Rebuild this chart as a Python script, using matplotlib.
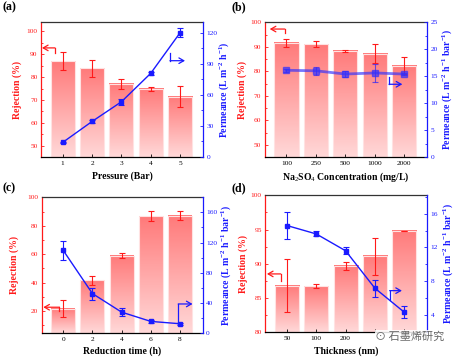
"""
膜性能（截留率 + 渗透率）四联图
"""
import numpy as np
import matplotlib
matplotlib.use('Agg')
import matplotlib.pyplot as plt
from matplotlib.colors import LinearSegmentedColormap
from matplotlib.ticker import MultipleLocator

plt.rcParams['font.family'] = ['Liberation Serif', 'DejaVu Sans']
plt.rcParams['mathtext.fontset'] = 'custom'
plt.rcParams['mathtext.rm'] = 'Liberation Serif'
plt.rcParams['mathtext.it'] = 'Liberation Serif:italic'
plt.rcParams['mathtext.bf'] = 'Liberation Serif:bold'

# (a) 压力
pressure_labels = ['1', '2', '3', '4', '5']
pressure_rej = [87.0, 83.8, 77.0, 74.8, 71.4]
pressure_rej_err = [3.9, 3.6, 2.2, 1.0, 4.5]
pressure_perm = [14.1, 34.3, 53.3, 80.8, 120.0]
pressure_perm_err = [0.8, 1.0, 3.0, 1.2, 4.3]

# (b) Na2SO4 浓度
conc_labels = ['100', '250', '500', '1000', '2000']
conc_rej = [91.7, 91.0, 88.3, 87.1, 82.3]
conc_rej_err = [1.6, 1.2, 0.3, 3.9, 3.6]
conc_perm = [16.1, 16.0, 15.4, 15.6, 15.4]
conc_perm_err = [0.3, 0.7, 0.5, 1.6, 0.2]

# (c) 还原时间
time_labels = ['0', '2', '4', '6', '8']
time_rej = [21.6, 41.5, 58.9, 86.8, 87.2]
time_rej_err = [5.9, 3.0, 1.6, 3.7, 3.4]
time_perm = [109.5, 52.3, 27.7, 15.4, 12.3]
time_perm_err = [12.7, 8.0, 5.3, 2.0, 1.5]

# (d) 厚度 （后两个标签被水印遮住）
thick_labels = ['50', '100', '200', '', '']
thick_rej = [86.8, 86.7, 89.7, 91.1, 94.8]
thick_rej_err = [3.9, 0.3, 0.6, 2.7, 0.0]
thick_perm = [14.6, 13.6, 11.6, 7.15, 4.3]
thick_perm_err = [1.6, 0.3, 0.4, 1.0, 0.7]

RED = '#ff1a1a'
BLUE = '#1a1aff'
bar_cmap = LinearSegmentedColormap.from_list('bar', ['#ffd8d8', '#ff7a7a'])

PERM_LABEL = r'Permeance (L m$^{\mathbf{-2}}$ h$^{\mathbf{-1}}$ bar$^{\mathbf{-1}}$)'


def draw_arrow(ax, tail, corner, tip, color):
    """L字形の矢印（軸の割合座標）"""
    ax.plot([tail[0], corner[0]], [tail[1], corner[1]], color=color, lw=0.9,
            transform=ax.transAxes, clip_on=False, zorder=6)
    ax.annotate('', xy=tip, xytext=corner, xycoords='axes fraction',
                arrowprops=dict(arrowstyle='->,head_length=0.35,head_width=0.2',
                                color=color, lw=0.9, shrinkA=0, shrinkB=0),
                zorder=6)


def draw_panel(fig, rect, labels, rej, rej_err, perm, perm_err, xlabel,
               ylim_l, yt_l, ylim_r, yt_r, perm_label, arrows, line_kw,
               lab_coords):
    ax = fig.add_axes(rect)
    x = np.arange(len(labels))
    w = 0.82

    # 棒グラフ（グラデーション）
    for xi, h in zip(x, rej):
        grad = np.linspace(0, 1, 100).reshape(-1, 1)
        ax.imshow(grad, extent=(xi - w / 2, xi + w / 2, ylim_l[0], h),
                  origin='lower', cmap=bar_cmap, aspect='auto', zorder=1)
        ax.bar(xi, h - ylim_l[0], bottom=ylim_l[0], width=w,
               facecolor='none', edgecolor='#ffe2e2', lw=0.8, zorder=2)
    ax.errorbar(x, rej, yerr=rej_err, fmt='none', ecolor=RED, elinewidth=0.8,
                capsize=2, capthick=0.8, zorder=3)

    ax.set_xlim(-0.74, 4.78)
    ax.set_ylim(*ylim_l)
    ax.set_xticks(x)
    ax.set_xticklabels(labels)
    ax.yaxis.set_major_locator(MultipleLocator(yt_l))
    ax.yaxis.set_minor_locator(MultipleLocator(yt_l / 2))
    ax.tick_params(axis='y', which='both', colors=RED, direction='in',
                   labelsize=5.3, width=0.6, pad=2.5)
    ax.tick_params(axis='y', which='major', length=2.5)
    ax.tick_params(axis='y', which='minor', length=1.5)
    ax.tick_params(axis='x', direction='in', length=2, width=0.6,
                   labelsize=5.3, pad=3)
    ax.set_ylabel('Rejection (%)', color=RED, fontsize=7, fontweight='bold')
    ax.set_xlabel(xlabel, fontsize=7, fontweight='bold')
    ax.spines['left'].set_color(RED)
    ax.spines['top'].set_color('#333333')
    ax.spines['right'].set_visible(False)
    for s in ax.spines.values():
        s.set_linewidth(0.9)

    # 渗透率（右軸）
    ax2 = ax.twinx()
    ax2.errorbar(x, perm, yerr=perm_err, marker='s', capsize=2,
                 capthick=0.8, elinewidth=0.8, zorder=5, **line_kw)
    ax2.set_ylim(*ylim_r)
    ax2.yaxis.set_major_locator(MultipleLocator(yt_r))
    ax2.yaxis.set_minor_locator(MultipleLocator(yt_r / 2))
    ax2.tick_params(axis='y', which='both', colors=BLUE, direction='in',
                    labelsize=5.3, width=0.6, pad=2.5)
    ax2.tick_params(axis='y', which='major', length=2.5)
    ax2.tick_params(axis='y', which='minor', length=1.5)
    ax2.set_ylabel(perm_label, color=BLUE, fontsize=7, fontweight='bold')
    ax2.spines['right'].set_color(BLUE)
    ax2.spines['right'].set_linewidth(0.9)
    for s in ['left', 'top', 'bottom']:
        ax2.spines[s].set_visible(False)

    ax.yaxis.set_label_coords(lab_coords[0], 0.5)
    ax2.yaxis.set_label_coords(lab_coords[1], 0.5)
    ax.xaxis.set_label_coords(0.5, lab_coords[2])

    draw_arrow(ax2, *arrows[0], RED)
    draw_arrow(ax2, *arrows[1], BLUE)
    return ax, ax2


fig = plt.figure(figsize=(4.56, 3.57), dpi=100)

solid = dict(color=BLUE, ms=3.5, lw=1.0, ecolor=BLUE)
soft = dict(color='#3030ff', ms=4, lw=2.0, alpha=0.65, ecolor=BLUE)

draw_panel(fig, [0.0899, 0.5602, 0.3553, 0.3773], pressure_labels,
           pressure_rej, pressure_rej_err, pressure_perm, pressure_perm_err,
           'Pressure (Bar)', (45, 104), 10, (0, 130), 30,
           r'Permeance (L m$^{\mathbf{-2}}$ h$^{\mathbf{-1}}$)',
           [((0.086, 0.772), (0.086, 0.81), (0.006, 0.81)),
            ((0.796, 0.772), (0.796, 0.715), (0.889, 0.715))],
           solid, (-0.12, 1.09, -0.11))

draw_panel(fig, [0.5805, 0.5602, 0.3559, 0.3773], conc_labels,
           conc_rej, conc_rej_err, conc_perm, conc_perm_err,
           r'Na$_2$SO$_4$ Concentration (mg/L)', (45, 100), 10, (0, 25), 5,
           PERM_LABEL,
           [((0.123, 0.918), (0.123, 0.95), (0.031, 0.95)),
            ((0.766, 0.592), (0.766, 0.54), (0.848, 0.54))],
           soft, (-0.11, 1.08, -0.10))

draw_panel(fig, [0.0914, 0.0672, 0.3531, 0.3801], time_labels,
           time_rej, time_rej_err, time_perm, time_perm_err,
           'Reduction time (h)', (4.5, 100), 20, (0, 180), 40,
           PERM_LABEL,
           [((0.11, 0.16), (0.11, 0.19), (0.01, 0.19)),
            ((0.848, 0.069), (0.848, 0.214), (0.937, 0.214))],
           solid, (-0.14, 1.10, -0.10))

draw_panel(fig, [0.5818, 0.0692, 0.3546, 0.3838], thick_labels,
           thick_rej, thick_rej_err, thick_perm, thick_perm_err,
           'Thickness (nm)', (80, 100), 5, (1.9, 18.2), 4,
           PERM_LABEL,
           [((0.095, 0.372), (0.095, 0.426), (0.01, 0.426)),
            ((0.769, 0.238), (0.769, 0.304), (0.845, 0.304))],
           solid, (-0.11, 1.09, -0.10))

# パネル記号
for px, py, t in [(0.005, 0.995, '(a)'), (0.508, 0.995, '(b)'),
                  (0.005, 0.49, '(c)'), (0.508, 0.49, '(d)')]:
    fig.text(px, py, t, fontsize=8.5, fontweight='bold', va='top', ha='left')

# 水印
fig.text(0.975, 0.058, '⊙ 石墨烯研究', fontsize=8, color='#666666',
         family=['Noto Sans CJK SC', 'DejaVu Sans'], ha='right', va='center',
         bbox=dict(facecolor='white', edgecolor='none', alpha=0.85, pad=0.5))

fig.savefig('out.png', dpi=100)
